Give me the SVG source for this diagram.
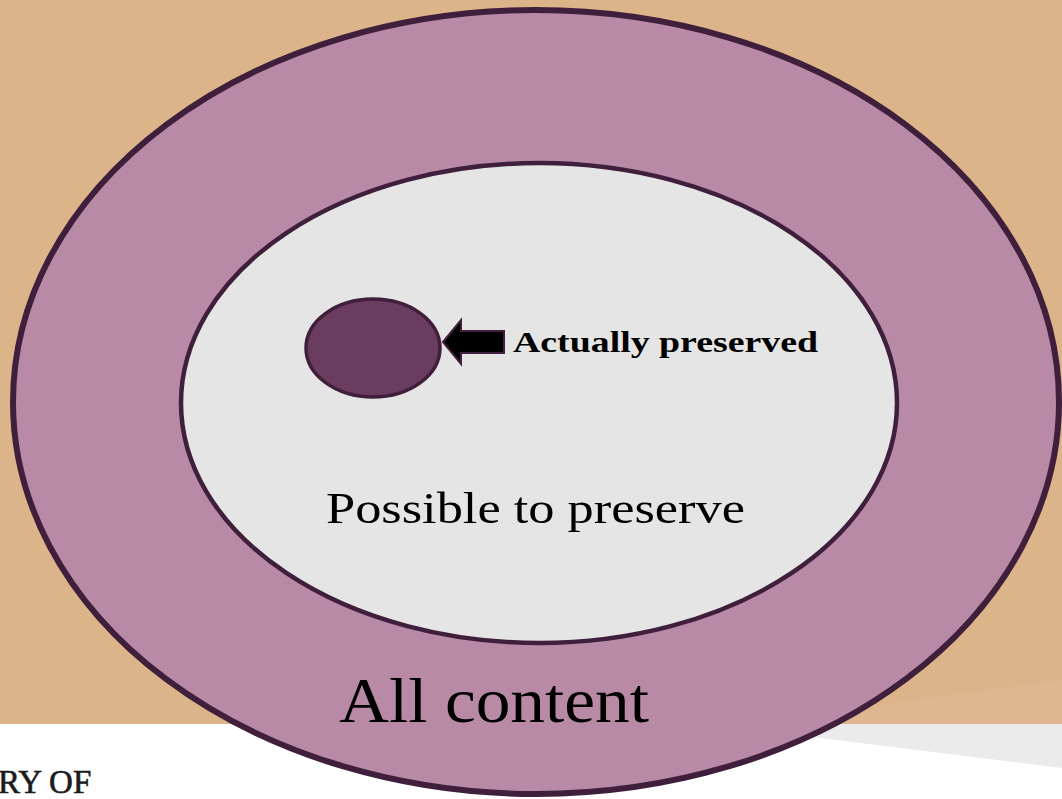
<svg xmlns="http://www.w3.org/2000/svg" width="1062" height="799" viewBox="0 0 1062 799">
<style>
.serif{font-family:"Liberation Serif","DejaVu Serif",serif;fill:#000}
.ring{stroke:#3F1F3B}
</style>
<g id="background">
<rect x="0" y="0" width="1062" height="799" fill="#FFFFFF"/>
<rect x="0" y="0" width="1062" height="724" fill="#DCB48A"/>
<polygon points="780,718 1062,680 1062,724 780,724" fill="#DEB690"/>
<polygon points="780,724 1062,724 1062,768 780,733" fill="#EBEBEB"/>
<text x="-2" y="793" font-size="33" stroke="#1a1a1a" stroke-width="0.6" style="font-family:'Liberation Serif',serif;fill:#1a1a1a">RY OF</text>
</g>
<g id="all-content">
<ellipse class="ring" cx="536" cy="402" rx="523" ry="392" fill="#B98AA6" stroke-width="6"/>
<text class="serif" x="339" y="722" font-size="64" textLength="310" lengthAdjust="spacingAndGlyphs">All content</text>
</g>
<g id="possible">
<ellipse class="ring" cx="539" cy="403" rx="358" ry="240" fill="#E5E5E5" stroke-width="4.5"/>
<text class="serif" x="326" y="523" font-size="45" textLength="419" lengthAdjust="spacingAndGlyphs">Possible to preserve</text>
</g>
<g id="actually">
<ellipse class="ring" cx="373" cy="348" rx="67" ry="49" fill="#6A3D60" stroke-width="3.5"/>
</g>
<g id="connectors">
<polygon points="443,342 461,320 461,331 504,331 504,353 461,353 461,364" fill="#000" stroke="#3F1F3B" stroke-width="2" stroke-linejoin="miter"/>
</g>
<g id="label">
<text class="serif" x="513" y="352" font-size="30" font-weight="bold" textLength="305" lengthAdjust="spacingAndGlyphs">Actually preserved</text>
</g>
</svg>
